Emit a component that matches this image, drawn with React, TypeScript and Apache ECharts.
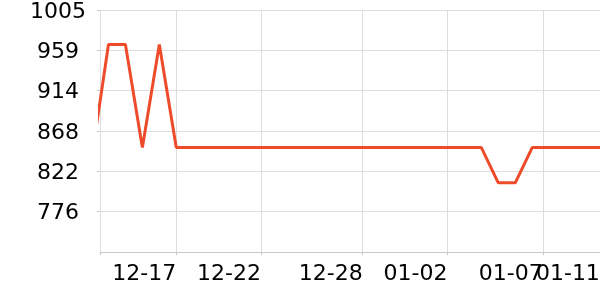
import React, { useEffect, useRef } from "react";
import * as echarts from "echarts";

const dates: string[] = [
  "2023-12-12", "2023-12-13", "2023-12-14", "2023-12-15", "2023-12-16", "2023-12-17",
  "2023-12-18", "2023-12-19", "2023-12-20", "2023-12-21", "2023-12-22", "2023-12-23",
  "2023-12-24", "2023-12-25", "2023-12-26", "2023-12-27", "2023-12-28", "2023-12-29",
  "2023-12-30", "2023-12-31", "2024-01-01", "2024-01-02", "2024-01-03", "2024-01-04",
  "2024-01-05", "2024-01-06", "2024-01-07", "2024-01-08", "2024-01-09", "2024-01-10",
  "2024-01-11",
];
const values: number[] = [
  836, 966, 966, 849, 966, 849,
  849, 849, 849, 849, 849, 849,
  849, 849, 849, 849, 849, 849,
  849, 849, 849, 849, 849, 849,
  809, 809, 849, 849, 849, 849,
  849,
];
const xTickDates: string[] = [
  "2023-12-12T12:00", "2023-12-17", "2023-12-22", "2023-12-28", "2024-01-02", "2024-01-07T15:00", "2024-01-10T23:50",
];
const xLabelDates: string[] = [
  "2023-12-17", "2023-12-22", "2023-12-28", "2024-01-02", "2024-01-07T15:00",
];
const xLastLabelDates: string[] = ["2024-01-10T23:50"];
const xMin = "2023-12-12T12:00";
const yMin = 730.4;
const yMax = 1005.2;
const yInterval = 45.8;

const ts = (s: string) => new Date(s.length === 10 ? s + "T00:00" : s).getTime();
const pad = (n: number) => (n < 10 ? "0" + n : "" + n);
const fmtDate = (v: number) => {
  const d = new Date(v + 3600 * 1000);
  return pad(d.getMonth() + 1) + "-" + pad(d.getDate());
};

export default function App() {
  const ref = useRef<HTMLDivElement>(null);
  useEffect(() => {
    if (!ref.current) return;
    const chart = echarts.init(ref.current, null, { renderer: "svg" });
    const labelStyle = {
      align: "right",
      margin: 9,
      fontSize: 22,
      color: "#000",
      fontFamily: "DejaVu Sans",
      hideOverlap: false,
      formatter: fmtDate,
    };
    chart.setOption({
      animation: false,
      textStyle: { fontFamily: "DejaVu Sans" },
      grid: { left: 100, right: 0, top: 10, bottom: 48, containLabel: false, outerBoundsMode: "none" },
      xAxis: [
        {
          type: "value",
          min: ts(xMin),
          max: ts(dates[dates.length - 1]),
          axisLine: { show: true, lineStyle: { color: "#c8c8c8", width: 1 } },
          axisTick: { show: true, length: 3, lineStyle: { color: "#c8c8c8" }, customValues: xTickDates.map(ts) },
          splitLine: { show: true, lineStyle: { color: "#dddddd", width: 1 } },
          axisLabel: { ...labelStyle, customValues: xLabelDates.map(ts) },
        },
        {
          type: "value",
          position: "bottom",
          min: ts(xMin),
          max: ts(dates[dates.length - 1]),
          axisLine: { show: false },
          axisTick: { show: false },
          splitLine: { show: false },
          axisLabel: { ...labelStyle, customValues: xLastLabelDates.map(ts) },
        },
      ],
      yAxis: {
        type: "value",
        min: yMin,
        max: yMax,
        interval: yInterval,
        axisLine: { show: false },
        axisTick: { show: true, length: 3, lineStyle: { color: "#c8c8c8" } },
        splitLine: { show: true, lineStyle: { color: "#dddddd", width: 1 } },
        axisLabel: {
          showMinLabel: false,
          align: "center",
          margin: 42,
          fontSize: 22,
          color: "#000",
          fontFamily: "DejaVu Sans",
          formatter: (v: number) => String(Math.round(v)),
        },
      },
      series: [
        {
          type: "line",
          xAxisIndex: 0,
          data: dates.map((d, i) => [ts(d), values[i]]),
          showSymbol: false,
          clip: true,
          lineStyle: { color: "#ee4b2b", width: 3 },
          itemStyle: { color: "#ee4b2b" },
        },
      ],
    });
    return () => chart.dispose();
  }, []);
  return (
    <div
      ref={ref}
      style={{ position: "fixed", left: 0, top: 0, width: 600, height: 300 }}
    />
  );
}
